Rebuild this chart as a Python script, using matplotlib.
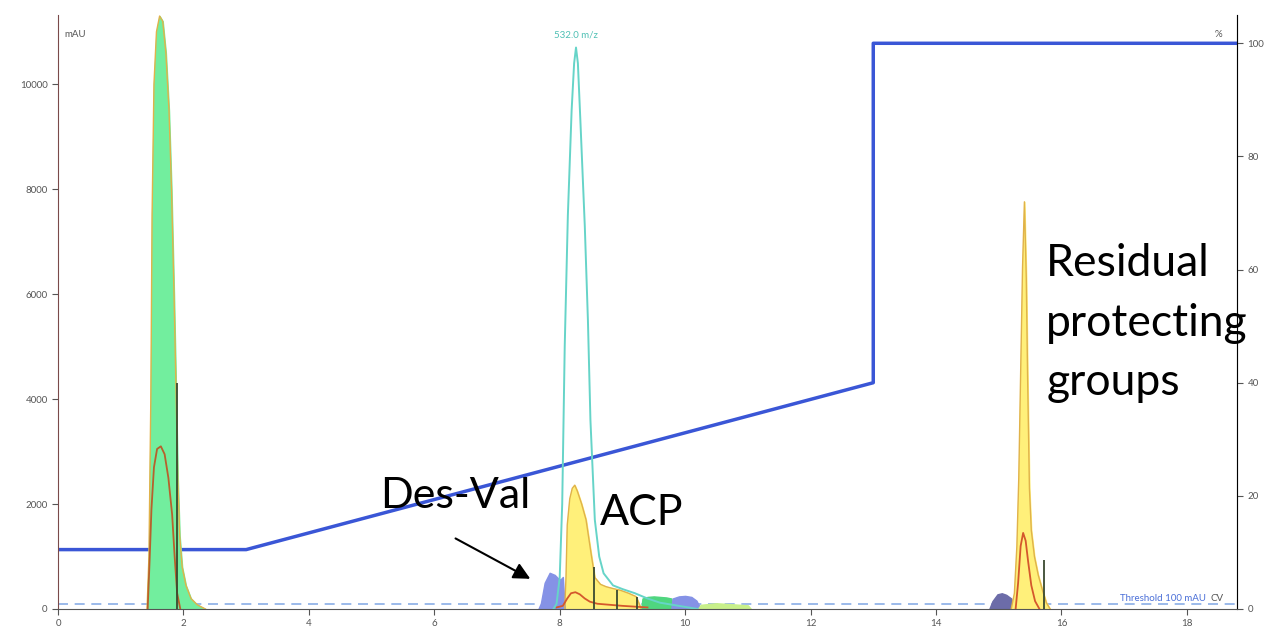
"""
色谱图复刻: UV 通道 + 532.0 m/z 质谱通道 + 梯度曲线
"""
import numpy as np
import matplotlib
matplotlib.use('Agg')
import matplotlib.pyplot as plt

matplotlib.rcParams['font.family'] = ['Lato', 'DejaVu Sans']

# ---- 数据 ----
# 第一个峰 (绿色, 约 1.6 CV)
green1_x = [1.42, 1.45, 1.48, 1.50, 1.53, 1.57, 1.62, 1.67, 1.72, 1.77, 1.81, 1.85,
            1.88, 1.91, 1.94, 1.98, 2.04, 2.12, 2.22, 2.35]
green1_y = [0, 1000, 4000, 7500, 10000, 11000, 11300, 11200, 10600, 9500, 8000, 6000,
            4300, 2500, 1400, 800, 450, 200, 80, 0]
red1_x = [1.43, 1.46, 1.49, 1.53, 1.58, 1.64, 1.70, 1.76, 1.82, 1.86, 1.90, 1.95]
red1_y = [0, 900, 1900, 2700, 3050, 3100, 2950, 2500, 1800, 1000, 300, 0]

# 532.0 m/z 质谱信号
ms_x = [7.90, 7.95, 8.00, 8.04, 8.08, 8.13, 8.19, 8.23, 8.26, 8.29, 8.33, 8.40, 8.45,
        8.49, 8.56, 8.63, 8.70, 8.85, 9.00, 9.20, 9.40, 9.60, 9.90, 10.2]
ms_y = [0, 100, 600, 2000, 5000, 7500, 9500, 10400, 10700, 10400, 9300, 7300, 5500,
        3600, 1700, 1000, 680, 450, 380, 300, 200, 120, 60, 0]

# Des-Val (蓝色小峰)
desval_x = [7.66, 7.70, 7.76, 7.84, 7.92, 7.97, 8.01, 8.05, 8.08]
desval_y = [0, 110, 500, 690, 650, 590, 560, 610, 0]

# ACP (黄色峰)
acp_x = [8.08, 8.10, 8.12, 8.16, 8.20, 8.24, 8.28, 8.35, 8.42, 8.50, 8.56, 8.65,
         8.74, 8.85, 8.96, 9.10, 9.22, 9.30]
acp_y = [0, 600, 1600, 2100, 2300, 2360, 2250, 2000, 1700, 1060, 600, 470,
         425, 390, 360, 300, 235, 0]
red2_x = [7.95, 8.05, 8.12, 8.18, 8.25, 8.32, 8.40, 8.48, 8.60, 9.00, 9.40]
red2_y = [30, 60, 200, 300, 320, 280, 200, 140, 100, 60, 30]

# 后面的小峰
green2_x = [9.30, 9.32, 9.40, 9.50, 9.60, 9.70, 9.78, 9.80]
green2_y = [0, 200, 230, 240, 230, 220, 200, 0]
blue2_x = [9.78, 9.80, 9.90, 10.00, 10.10, 10.18, 10.25]
blue2_y = [0, 200, 240, 250, 230, 160, 0]
lgreen_x = [10.20, 10.25, 10.50, 10.75, 11.00, 11.05]
lgreen_y = [0, 80, 110, 90, 70, 0]
bb_x = [14.85, 14.90, 14.98, 15.05, 15.12, 15.20, 15.25]
bb_y = [0, 150, 280, 300, 270, 200, 0]

# 残留保护基 (黄色大峰, 约 15.4 CV)
yellow3_x = [15.20, 15.25, 15.29, 15.32, 15.35, 15.38, 15.41, 15.44, 15.46, 15.49,
             15.52, 15.57, 15.63, 15.70, 15.76, 15.82]
yellow3_y = [0, 300, 1200, 2500, 4500, 6500, 7760, 6300, 4500, 2300,
             1500, 1000, 650, 350, 120, 0]
red3_x = [15.27, 15.31, 15.35, 15.39, 15.43, 15.47, 15.52, 15.58, 15.65]
red3_y = [0, 500, 1200, 1450, 1300, 900, 450, 150, 0]

# 馏分切割线 (x, 高度)
cut_x = [1.89, 8.54, 8.92, 9.23, 15.73]
cut_h = [4300, 800, 360, 230, 930]

# 梯度 (%B)
grad_x = [0, 3, 13, 13, 18.8]
grad_y = [10.5, 10.5, 40, 100, 100]

threshold = 100

x_ticks = [0, 2, 4, 6, 8, 10, 12, 14, 16, 18]
y_ticks = [0, 2000, 4000, 6000, 8000, 10000]
y2_ticks = [0, 20, 40, 60, 80, 100]

# ---- 绘图 ----
fig = plt.figure(figsize=(12.65, 6.31), dpi=100)
ax = fig.add_axes([58 / 1265, 22 / 631, 1179 / 1265, 594 / 631])
ax2 = ax.twinx()

ax.fill_between(green1_x, green1_y, color='#72ee9e', zorder=2)
ax.plot(green1_x, green1_y, color='#e0b24a', lw=1.0, zorder=3)
ax.plot(red1_x, red1_y, color='#b8602c', lw=1.3, zorder=4)

ax.fill_between(acp_x, acp_y, color='#fff07a', zorder=2)
ax.plot(acp_x, acp_y, color='#e0b24a', lw=1.0, zorder=3)
ax.fill_between(desval_x, desval_y, color='#8592e6', zorder=2)
ax.plot(red2_x, red2_y, color='#d4582c', lw=1.3, zorder=4)

ax.fill_between(green2_x, green2_y, color='#4fd67f', zorder=2)
ax.fill_between(blue2_x, blue2_y, color='#8592e6', zorder=2)
ax.fill_between(lgreen_x, lgreen_y, color='#c8f08a', zorder=2)
ax.fill_between(bb_x, bb_y, color='#6c6ca8', zorder=2)

ax.fill_between(yellow3_x, yellow3_y, color='#fff07a', zorder=2)
ax.plot(yellow3_x, yellow3_y, color='#e0b24a', lw=1.0, zorder=3)
ax.plot(red3_x, red3_y, color='#d4582c', lw=1.3, zorder=4)

ax.vlines(cut_x, 0, cut_h, color='#3a4a30', lw=1.3, zorder=5)

ax.plot(ms_x, ms_y, color='#66d4c8', lw=1.4, zorder=6)
ax.text(8.26, 10850, '532.0 m/z', color='#4fc0b4', fontsize=7, ha='center', va='bottom')

ax.axhline(threshold, color='#8aaee6', lw=1.2, ls=(0, (6, 4)), zorder=1)
ax.text(18.3, threshold + 20, 'Threshold 100 mAU', color='#4a6fd8', fontsize=7,
        ha='right', va='bottom')

ax2.plot(grad_x, grad_y, color='#3a56d6', lw=2.5, zorder=7)

# 轴设置
ax.set_xlim(0, 18.8)
ax.set_ylim(0, 11320)
ax2.set_ylim(0, 105)
ax.set_xticks(x_ticks)
ax.set_yticks(y_ticks)
ax2.set_yticks(y2_ticks)
for a in (ax, ax2):
    a.tick_params(labelsize=7, colors='#555555', length=4, width=0.8)
    a.spines['top'].set_visible(False)
ax.spines['left'].set_color('#7a4a4a')
ax.spines['bottom'].set_color('#555555')
ax2.spines['right'].set_color('#999999')
ax2.spines['left'].set_visible(False)
ax2.spines['bottom'].set_visible(False)
ax.patch.set_visible(False)
ax.set_zorder(ax2.get_zorder() + 1)

ax.text(0.1, 10950, 'mAU', fontsize=7, color='#555555', va='center')
ax.text(18.45, 10950, '%', fontsize=7, color='#555555', va='center')
ax.text(18.38, 120, 'CV', fontsize=7, color='#555555', va='bottom')

# 注释
ax.text(5.13, 2150, 'Des-Val', fontsize=31, va='center', ha='left')
ax.text(8.64, 1830, 'ACP', fontsize=31, va='center', ha='left')
ax.text(15.76, 5450, 'Residual\nprotecting\ngroups', fontsize=32, va='center',
        ha='left', linespacing=1.55)
ax.annotate('', xy=(7.57, 550), xytext=(6.3, 1370),
            arrowprops=dict(arrowstyle='-|>', color='black', lw=1.5, mutation_scale=25))

fig.savefig('out.png', dpi=100)
plt.close(fig)
